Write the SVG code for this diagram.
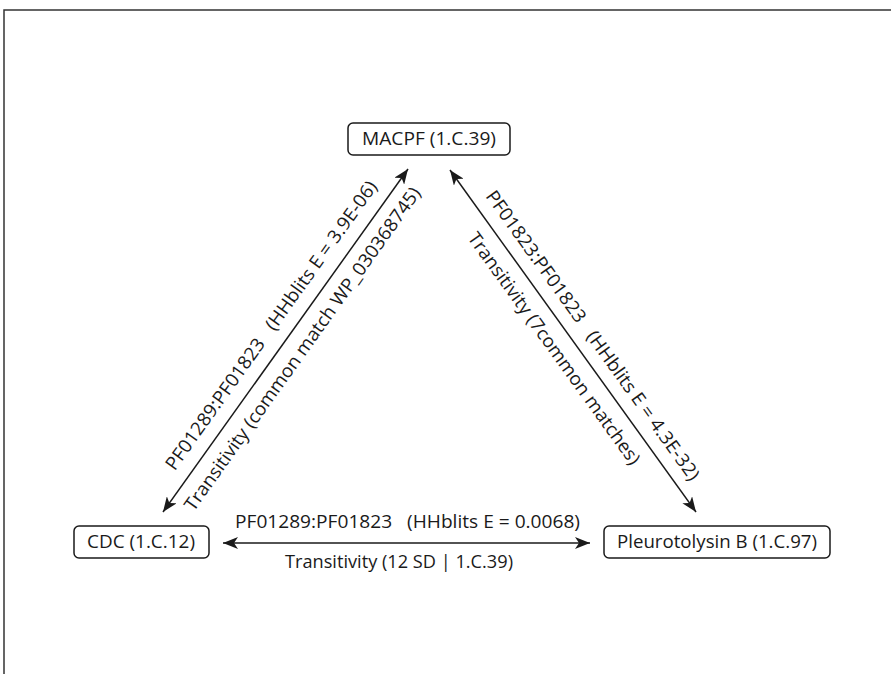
<svg xmlns="http://www.w3.org/2000/svg" width="891" height="674" viewBox="0 0 891 674">
<style>
text{font-family:"Open Sans","Noto Sans","DejaVu Sans",sans-serif;font-size:18.5px;fill:#1a1a1a;white-space:pre}
.box{fill:#fff;stroke:#1a1a1a;stroke-width:1.5}
.edge{stroke:#1a1a1a;stroke-width:1.5;fill:none;marker-start:url(#ah);marker-end:url(#ah)}
</style>
<defs>
<marker id="ah" viewBox="0 0 15 12" refX="15" refY="6" markerWidth="15" markerHeight="12" markerUnits="userSpaceOnUse" orient="auto-start-reverse">
<path d="M0,0 L15,6 L0,12 L4,6 z" fill="#1a1a1a"/>
</marker>
</defs>
<rect width="891" height="674" fill="#fff"/>
<path d="M4,674 L4,10 L891,10" fill="none" stroke="#333" stroke-width="1.5"/>
<g id="connectors">
<line class="edge" x1="163" y1="512" x2="408" y2="169"/>
<line class="edge" x1="450" y1="170" x2="696" y2="512"/>
<line class="edge" x1="223" y1="543" x2="590" y2="543"/>
<g transform="translate(285.5,340.5) rotate(-54.5)">
<text x="4" y="-14" text-anchor="middle" textLength="350" lengthAdjust="spacingAndGlyphs">PF01289:PF01823   (HHblits E = 3.9E-06)</text>
<text x="3" y="25" text-anchor="middle" textLength="392" lengthAdjust="spacingAndGlyphs">Transitivity (common match WP_030368745)</text>
</g>
<g transform="translate(573,341) rotate(54.3)">
<text x="7" y="-13" text-anchor="middle" textLength="352" lengthAdjust="spacingAndGlyphs">PF01823:PF01823   (HHblits E = 4.3E-32)</text>
<text x="-5" y="26" text-anchor="middle" textLength="281" lengthAdjust="spacingAndGlyphs">Transitivity (7common matches)</text>
</g>
<text x="407.5" y="528" text-anchor="middle" textLength="345" lengthAdjust="spacingAndGlyphs">PF01289:PF01823   (HHblits E = 0.0068)</text>
<text x="399" y="568" text-anchor="middle" textLength="228" lengthAdjust="spacingAndGlyphs">Transitivity (12 SD | 1.C.39)</text>
</g>
<g id="node-macpf">
<rect class="box" x="348" y="123" width="162" height="32" rx="5"/>
<text x="429" y="145" text-anchor="middle" textLength="134" lengthAdjust="spacingAndGlyphs">MACPF (1.C.39)</text>
</g>
<g id="node-cdc">
<rect class="box" x="74" y="526" width="135" height="32" rx="5"/>
<text x="141" y="548" text-anchor="middle" textLength="108" lengthAdjust="spacingAndGlyphs">CDC (1.C.12)</text>
</g>
<g id="node-pleurotolysin">
<rect class="box" x="604" y="526" width="226" height="32" rx="5"/>
<text x="717" y="548" text-anchor="middle" textLength="200" lengthAdjust="spacingAndGlyphs">Pleurotolysin B (1.C.97)</text>
</g>
</svg>
